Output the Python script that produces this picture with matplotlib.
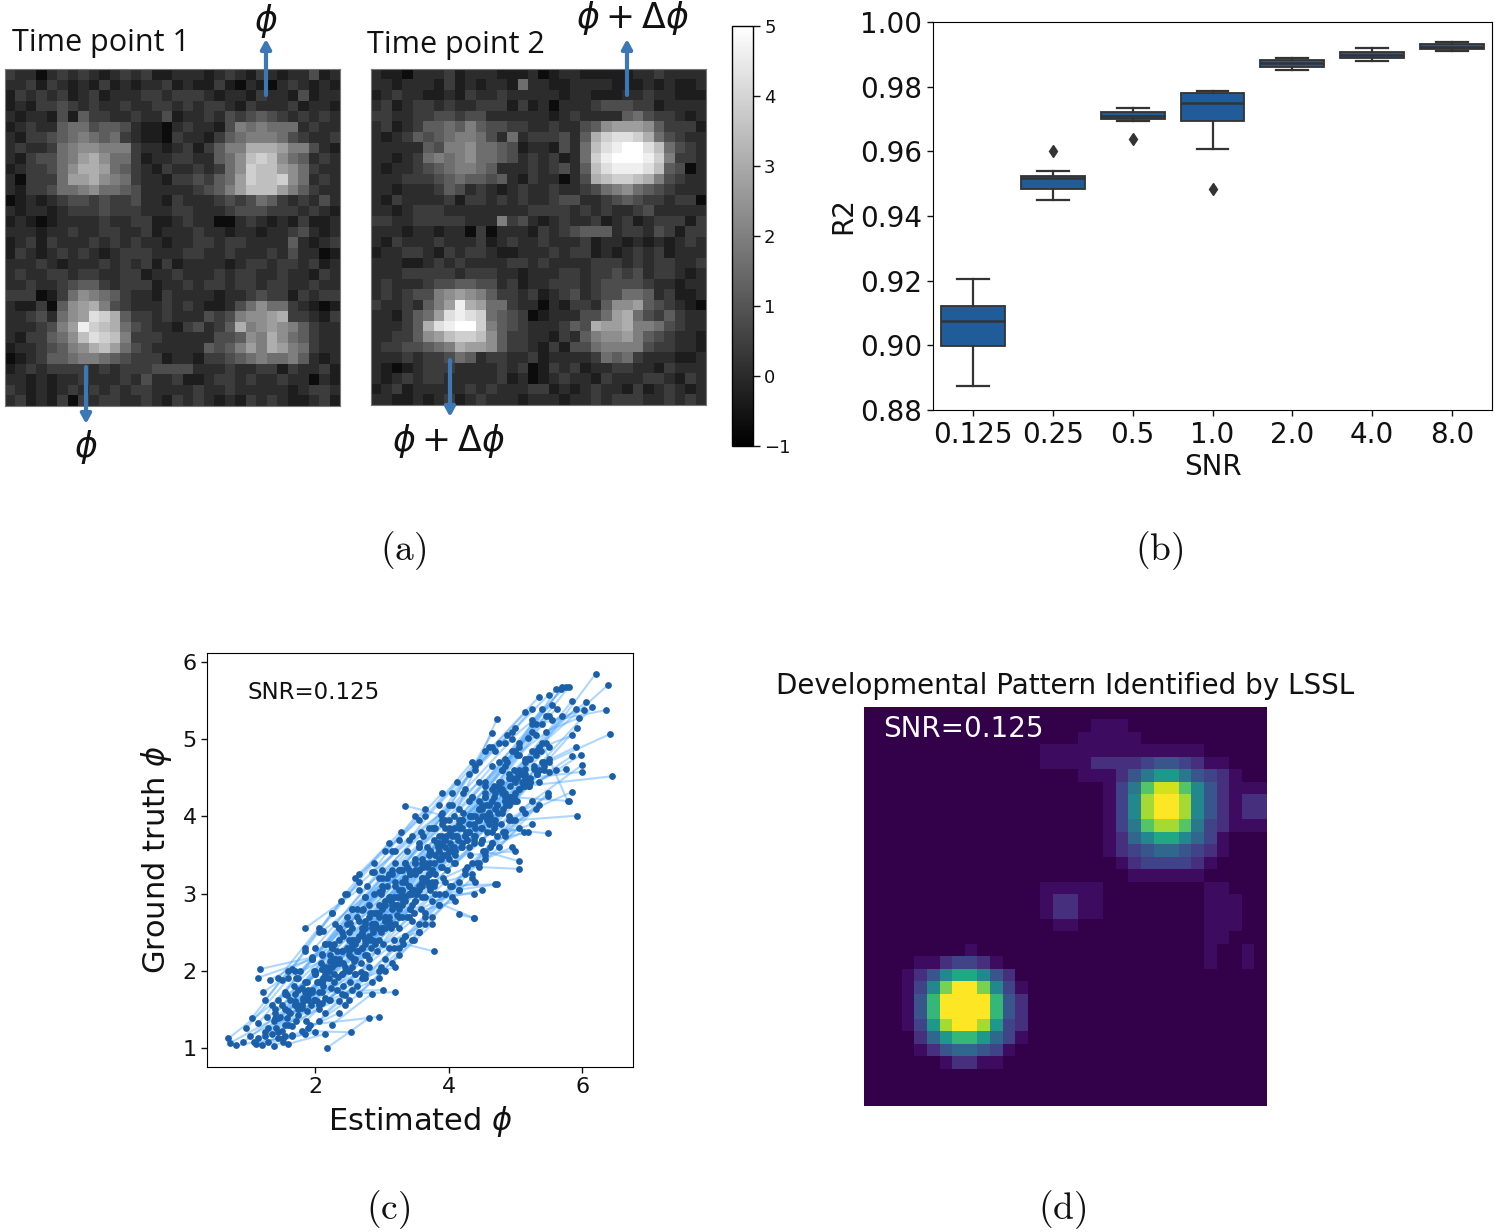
"""Four panel figure: phantom images, R2 boxplot, phi scatter, LSSL pattern."""
import numpy as np
import matplotlib
matplotlib.use("Agg")
import matplotlib.pyplot as plt
from matplotlib.cm import ScalarMappable
from matplotlib.colors import Normalize, ListedColormap

W, H = 1500, 1232

# grey levels (hex digit 0-f)
time1_rows = [
    "32202323212323112221232132122412", "22313212131212231211310210232121",
    "13232312312223323332122132214122", "12133432322322332323321322231221",
    "21221415332232241223243454323232", "12322566455421102322147676662322",
    "21334567656321103221356777643223", "23223678877732212313577aaa977421",
    "21344679a86631223322568bcb865232", "1233468aa96532132232368cbb986322",
    "20333699a87632213343569cbbc86232", "21334667866542222234579bbb975322",
    "01212344343342213222343465323242", "21221233343332223322234443332321",
    "12101222232233112322002321213112", "22212232233223122232212212234212",
    "12313222323232212233233222252123", "13212323212333222332232223242201",
    "22232122232323131222212332332312", "23223323322331223222323322322132",
    "22322345532333122323323323322322", "33301368765322132222122343313233",
    "21130589a74322232321124686632101", "22342689dca533232224347889a33213",
    "2223479ecba64322134235a789875322", "2133568bdcb73332222244587a865322",
    "12234578ab964322222545797a976322", "01235567765433312213345676675212",
    "12323333232333444422232233132231", "22121223222324223112332322322021",
    "32121232323233222232232222212332", "23121303233223213232121323211231",
]
time2_rows = [
    "21102223122211120122111112232222", "22122213121221622112222111212112",
    "12322112132232222212211122322111", "23123323223331312022234443312222",
    "33223344344222222123222256433212", "23123556575443322322458999853331",
    "212354567764262333425acddca64322", "222225477866541221426bdeffdb6432",
    "221236767866542323126cefffec7332", "212234567765222323425bdeeedb5402",
    "222333456554521322024abccba74322", "22122235423212322322346786543222",
    "21322223133232322344223454332330", "22123332222222233332323223422222",
    "33223333322273421232231231233313", "22212212203022213234555233243133",
    "21322232223123223222312212121232", "12233213233211222323312123231222",
    "22211232322223323222233323233223", "22233333233322122233233434233212",
    "23222344554423122333234444322122", "23234478987533231234234466523112",
    "32232579ea9663220213325889543210", "2213569dedc6543012224469a6435322",
    "22235adeffc7543222354a99a7764322", "2233589bccb853322132578897543221",
    "23344567a99853321314467777433221", "22232334652332231222236563222112",
    "21012333222232301323122332213222", "21232332222231201232213222332132",
    "12312222232322233121232213123212", "22112123123222122212232333223232",
]
# levels (hex digit 0-f)
pattern_rows = [
    "00000000000000000000000000000000", "00000000000000000011100000000000",
    "00000000000000000111110000000000", "00000000000000111111111111100000",
    "00000000000000111122223443211000", "00000000000000000111246886432100",
    "00000000000000000001 36beeb742111".replace(" ", ""), "00000000000000000001 37dffd742122".replace(" ", ""),
    "00000000000000000001 37dffd742122".replace(" ", ""), "00000000000000000001 36bddb632111".replace(" ", ""),
    "00000000000000000001 257997531000".replace(" ", ""), "00000000000000000001 234554321000".replace(" ", ""),
    "00000000000000000000123333210000", "00000000000000000000011111100000",
    "00000000000000111110000000011000", "00000000000000122110000000011100",
    "00000000000000122110000000011100", "00000000000000011000000000011100",
    "00000000000000000000000000011000", "00000000100000000000000000010010",
    "00001123321000000000000000010010", "00012479974200000000000000000000",
    "00013 7cffc7310000000000000000000".replace(" ", ""), "00014affffa42000000000000000000",
    "00014affffa42000000000000000000", "00013 8dffd8320000000000000000000".replace(" ", ""),
    "00002 58aa8531000000000000000000".replace(" ", ""), "00001 24554310000000000000000000".replace(" ", ""),
    "00000012211000000000000000000000", "00000000000000000000000000000000",
    "00000000000000000000000000000000", "00000000000000000000000000000000",
]

# boxplot statistics per SNR level
snr_labels = ["0.125", "0.25", "0.5", "1.0", "2.0", "4.0", "8.0"]
r2_whislo = [0.8873, 0.9448, 0.9694, 0.9608, 0.9851, 0.9880, 0.9910]
r2_q1 = [0.8999, 0.9482, 0.9699, 0.9695, 0.9862, 0.9890, 0.9917]
r2_med = [0.9074, 0.9516, 0.9710, 0.9749, 0.9873, 0.9899, 0.9923]
r2_q3 = [0.9122, 0.9524, 0.9722, 0.9780, 0.9881, 0.9907, 0.9931]
r2_whishi = [0.9205, 0.9540, 0.9735, 0.9788, 0.9888, 0.9919, 0.9938]
r2_fliers = [[], [0.9600], [0.9639], [0.9483], [], [], []]

# estimated / true phi, each early point joined to its late point
est_early = [
    0.70, 0.72, 0.82, 0.92, 0.97, 1.02, 1.08, 1.12, 1.15, 1.20,
    1.15, 1.17, 1.22, 1.25, 1.28, 1.30, 1.32, 1.35, 1.38, 1.40,
    1.42, 1.45, 1.48, 1.50, 1.52, 1.55, 1.58, 1.60, 1.62, 1.65,
    1.68, 1.72, 1.75, 1.78, 1.80, 1.82, 1.85, 1.88, 1.90, 1.92,
    1.95, 1.98, 2.00, 2.02, 2.05, 2.08, 2.10, 2.12, 2.15, 2.18,
    2.20, 2.22, 2.25, 2.28, 2.30, 2.32, 2.35, 2.38, 2.40, 2.42,
    2.45, 2.48, 2.50, 2.52, 2.55, 2.58, 2.60, 2.62, 2.65, 2.68,
    2.70, 2.72, 2.75, 2.78, 2.80, 2.82, 2.85, 2.88, 2.90, 2.92,
    2.95, 2.98, 3.00, 3.02, 3.05, 3.08, 3.10, 3.12, 3.15, 3.18,
    3.20, 3.22, 3.25, 3.28, 3.30, 3.32, 3.35, 3.38, 3.40, 3.42,
    3.45, 3.48, 3.50, 3.52, 3.55, 3.58, 3.60, 3.62, 3.65, 3.68,
    3.70, 3.72, 3.75, 3.78, 3.80, 3.82, 3.85, 3.88, 3.90, 3.92,
    3.95, 3.98, 4.00, 4.02, 4.05, 4.08, 4.10, 4.12, 4.15, 4.18,
    4.20, 4.22, 4.25, 4.28, 4.30, 4.32, 4.35, 4.38, 4.40, 4.42,
    4.45, 4.48, 4.50, 4.52, 4.55, 4.58, 4.60, 4.62, 4.65, 4.68,
    4.70, 4.72, 4.75, 4.78, 4.80, 4.82, 4.85, 4.88, 4.90, 4.92,
    4.95, 4.98, 5.00, 5.02, 5.05, 5.08, 5.10, 5.12, 5.15, 5.20,
    5.22, 5.25, 5.28, 5.30, 5.35, 5.40, 5.42, 5.45, 5.50, 5.55,
    1.55, 1.62, 1.70, 1.75, 1.82, 1.88, 1.95, 2.00, 2.05, 2.10,
    2.15, 2.22, 2.28, 2.35, 2.40, 2.48, 2.52, 2.58, 2.62, 2.70,
    2.75, 2.80, 2.86, 2.92, 2.98, 3.03, 3.08, 3.14, 3.20, 3.26,
    3.30, 3.35, 3.42, 3.48, 3.55, 3.60, 3.66, 3.72, 3.78, 3.84,
    3.90, 3.96, 4.02, 4.08, 4.14, 4.20, 4.26, 4.32, 4.38, 4.44,
    4.50, 4.56, 4.62, 4.68, 4.74, 4.80, 4.86, 4.92, 4.98, 5.04,
    1.25, 1.38, 1.44, 1.58, 1.66, 1.74, 1.86, 1.94, 2.06, 2.14,
    2.24, 2.34, 2.44, 2.54, 2.64, 2.74, 2.84, 2.94, 3.04, 3.14,
    4.30, 4.40, 4.55, 4.70, 4.85, 4.95, 5.05, 5.15, 5.25, 5.35,
    1.90, 2.05, 2.15, 2.25, 2.35, 2.45, 2.55, 2.65, 2.75, 2.85,
    2.95, 3.05, 3.15, 3.25, 3.35, 3.45, 3.55, 3.65, 3.75, 3.85,
    3.95, 4.05, 4.15, 4.25, 4.35, 4.45, 4.55, 4.65, 4.75, 4.85,
    1.05, 1.15, 1.25, 1.35, 1.45, 1.55, 1.65, 1.75, 1.85, 1.95,
    2.05, 2.15, 2.25, 2.35, 2.45, 2.55, 2.65, 2.75, 2.85, 2.95,
    3.05, 3.15, 3.25, 3.35, 3.45, 3.55, 3.65, 3.75, 3.85, 3.95,
    4.05, 4.15, 4.25, 4.35, 4.45, 4.55, 4.65, 4.75, 4.85, 4.95,
    1.40, 1.50, 1.60, 1.70, 1.80, 1.90, 2.00, 2.10, 2.20, 2.30,
    2.40, 2.50, 2.60, 2.70, 2.80, 2.90, 3.00, 3.10, 3.20, 3.30,
    3.40, 3.50, 3.60, 3.70, 3.80, 3.90, 4.00, 4.10, 4.20, 4.30,
    4.40, 4.50, 4.60, 4.70, 4.80, 4.90, 5.00, 1.30, 1.45, 1.60,
    2.10, 2.20, 2.30, 2.40, 2.50, 2.60, 2.70, 2.80, 2.90, 3.00,
    3.10, 3.20, 3.30, 3.40, 3.50, 3.60, 3.70, 3.80, 3.90, 4.00,
    4.10, 4.20, 4.30, 4.40, 4.50, 4.60, 4.70, 4.80, 4.90, 5.00,
]
truth_early = [
    1.12, 1.06, 1.03, 1.07, 1.25, 1.15, 1.08, 1.05, 1.12, 1.03,
    1.91, 2.02, 1.72, 1.20, 1.40, 1.08, 1.88, 1.18, 1.02, 1.50,
    1.25, 1.62, 1.40, 1.88, 1.12, 1.30, 1.68, 1.05, 1.45, 1.15,
    1.80, 1.35, 1.55, 2.00, 1.22, 1.65, 2.55, 1.48, 1.75, 1.30,
    2.18, 1.62, 2.30, 1.85, 1.55, 2.10, 1.72, 2.52, 1.95, 1.00,
    2.35, 1.62, 2.05, 1.95, 2.60, 1.75, 2.15, 2.90, 1.70, 2.45,
    2.00, 2.70, 2.25, 1.85, 2.55, 2.12, 3.20, 2.40, 2.65, 1.98,
    2.30, 2.80, 2.55, 3.10, 2.15, 2.75, 2.40, 3.28, 2.60, 2.25,
    2.85, 2.50, 3.05, 2.35, 2.70, 3.20, 2.60, 2.95, 3.55, 2.40,
    3.10, 2.85, 2.55, 3.30, 2.95, 2.35, 4.14, 2.70, 3.00, 3.25,
    3.05, 2.75, 3.40, 3.00, 3.60, 2.80, 3.20, 3.75, 2.95, 3.35,
    3.10, 3.55, 2.90, 3.85, 3.25, 3.65, 3.00, 3.45, 3.95, 3.20,
    3.70, 3.30, 3.85, 3.10, 3.55, 4.00, 3.40, 3.75, 2.73, 3.95,
    3.60, 4.05, 3.75, 3.35, 3.90, 3.50, 4.25, 3.70, 3.85, 3.40,
    3.95, 3.65, 4.15, 3.55, 4.30, 3.80, 4.05, 3.60, 4.35, 3.85,
    4.10, 3.75, 4.45, 3.90, 4.60, 3.80, 4.20, 4.70, 3.95, 4.50,
    4.25, 4.60, 3.95, 4.80, 4.35, 4.55, 4.10, 4.45, 4.75, 4.40,
    4.50, 4.85, 4.62, 5.20, 4.45, 4.95, 4.70, 5.10, 4.58, 5.25,
    1.50, 1.62, 1.55, 1.75, 1.60, 1.85, 1.72, 2.00, 1.85, 2.22,
    2.05, 2.20, 2.35, 2.10, 2.50, 2.30, 2.62, 2.40, 2.70, 2.50,
    2.65, 2.85, 2.50, 2.75, 3.00, 2.85, 3.10, 2.90, 3.15, 2.95,
    3.15, 2.95, 3.25, 3.05, 3.30, 3.45, 3.20, 3.55, 3.40, 3.60,
    3.50, 3.75, 3.65, 3.85, 3.70, 3.95, 3.80, 4.00, 3.75, 3.95,
    3.85, 4.15, 3.95, 4.25, 4.05, 4.30, 4.15, 4.40, 4.25, 4.55,
    1.15, 1.35, 1.20, 1.38, 1.28, 1.42, 1.35, 1.55, 1.50, 1.65,
    1.78, 1.92, 2.05, 2.18, 2.25, 2.40, 2.30, 2.55, 2.65, 2.55,
    4.55, 4.60, 4.40, 4.85, 4.65, 5.10, 4.95, 4.70, 5.25, 4.60,
    1.25, 1.35, 1.45, 1.30, 1.60, 1.55, 1.75, 1.70, 1.90, 1.85,
    2.00, 2.15, 2.10, 2.30, 2.45, 2.40, 2.60, 2.75, 2.70, 2.85,
    3.00, 3.10, 3.05, 3.25, 3.40, 3.35, 3.50, 3.65, 3.60, 3.75,
    1.38, 1.32, 1.62, 1.55, 1.90, 1.72, 2.02, 1.90, 2.30, 2.15,
    2.50, 2.35, 2.75, 2.55, 3.00, 2.80, 3.25, 2.95, 3.28, 3.20,
    3.55, 3.30, 3.70, 3.40, 3.75, 3.65, 4.00, 3.85, 4.15, 3.95,
    4.30, 4.10, 4.35, 4.25, 4.70, 4.45, 4.90, 4.70, 4.95, 4.85,
    1.45, 1.55, 1.48, 1.70, 1.78, 1.68, 1.95, 2.02, 1.90, 2.15,
    2.25, 2.40, 2.35, 2.55, 2.70, 2.60, 2.80, 2.95, 2.85, 3.05,
    3.10, 3.25, 3.35, 3.25, 3.50, 3.65, 3.55, 3.75, 3.85, 3.80,
    4.00, 4.10, 4.05, 4.30, 4.35, 4.25, 4.45, 1.25, 1.38, 1.30,
    1.85, 2.00, 2.10, 1.95, 2.20, 2.15, 2.30, 2.45, 2.35, 2.55,
    2.70, 2.60, 2.85, 3.00, 2.90, 3.10, 3.25, 3.15, 3.35, 3.45,
    3.50, 3.65, 3.60, 3.75, 3.70, 3.90, 3.95, 4.05, 4.15, 4.20,
]
est_late = [
    1.55, 1.40, 1.45, 1.70, 1.60, 1.75, 1.50, 1.65, 1.90, 1.85,
    1.95, 2.10, 1.70, 1.80, 1.95, 1.55, 2.25, 2.00, 1.52, 2.10,
    2.05, 2.20, 2.15, 2.55, 2.00, 2.10, 2.30, 2.15, 2.40, 2.35,
    2.50, 2.45, 2.60, 2.70, 2.53, 2.55, 2.65, 2.70, 2.80, 2.95,
    2.95, 2.75, 3.00, 2.85, 2.80, 2.90, 3.02, 3.25, 3.05, 2.80,
    3.10, 2.95, 3.15, 3.05, 3.20, 3.10, 3.22, 3.40, 3.20, 3.30,
    3.25, 3.35, 3.30, 3.20, 3.40, 3.30, 3.55, 3.40, 3.50, 3.30,
    3.45, 3.50, 3.55, 3.70, 3.40, 3.60, 3.50, 3.90, 3.60, 3.45,
    3.70, 3.60, 3.85, 3.55, 3.70, 3.90, 3.75, 3.85, 4.05, 3.64,
    3.95, 3.75, 3.80, 4.00, 3.85, 3.78, 3.88, 3.95, 4.10, 4.15,
    4.05, 4.10, 4.20, 4.38, 4.30, 4.15, 4.30, 4.40, 4.38, 4.45,
    4.35, 4.45, 4.50, 4.60, 4.50, 4.55, 4.40, 4.70, 4.65, 4.55,
    4.75, 4.65, 4.80, 4.70, 4.85, 4.72, 4.90, 4.90, 4.38, 5.00,
    5.00, 5.05, 5.10, 5.05, 5.15, 5.00, 5.25, 5.20, 5.30, 4.95,
    5.15, 5.18, 5.30, 5.05, 5.40, 5.20, 5.35, 5.13, 5.50, 5.48,
    5.50, 5.25, 5.60, 5.48, 5.70, 5.30, 5.60, 5.80, 5.85, 5.85,
    5.80, 5.90, 5.92, 6.05, 5.75, 6.20, 6.00, 6.15, 6.38, 6.44,
    6.00, 5.85, 6.42, 6.36, 5.98, 5.78, 5.90, 5.95, 5.84, 6.02,
    2.00, 2.10, 2.18, 2.25, 2.30, 2.35, 2.40, 2.48, 2.55, 2.62,
    2.75, 2.85, 2.88, 2.95, 3.00, 3.05, 3.15, 3.18, 3.25, 3.30,
    3.35, 3.38, 3.45, 3.50, 3.55, 3.62, 3.68, 3.72, 3.78, 3.85,
    3.90, 3.95, 4.02, 4.08, 4.15, 4.20, 4.28, 4.32, 4.38, 4.45,
    4.50, 4.55, 4.60, 4.68, 4.72, 4.78, 4.85, 4.90, 4.95, 5.02,
    5.05, 5.10, 5.15, 5.18, 5.22, 5.28, 5.32, 5.38, 5.42, 5.45,
    1.80, 1.90, 2.02, 2.12, 2.20, 2.28, 2.42, 2.50, 2.60, 2.68,
    2.78, 2.90, 3.00, 3.10, 3.22, 3.32, 3.42, 3.50, 3.60, 3.72,
    4.88, 5.00, 5.18, 5.25, 5.40, 5.50, 5.68, 5.70, 5.75, 5.92,
    2.50, 2.62, 2.75, 2.85, 2.98, 3.05, 3.18, 3.25, 3.35, 3.48,
    3.55, 3.65, 3.75, 3.85, 3.95, 4.05, 4.15, 4.25, 4.35, 4.45,
    4.55, 4.65, 4.72, 4.85, 4.95, 5.05, 5.15, 5.25, 5.35, 5.48,
    1.60, 1.72, 1.85, 1.95, 2.05, 2.15, 2.25, 2.35, 2.48, 2.55,
    2.65, 2.75, 2.88, 3.00, 3.10, 3.20, 3.28, 3.38, 3.50, 3.58,
    3.65, 3.80, 3.90, 4.00, 4.12, 4.22, 4.35, 4.45, 4.55, 4.65,
    4.75, 4.85, 4.95, 5.05, 5.15, 5.25, 5.35, 5.45, 5.55, 5.62,
    1.85, 1.98, 2.12, 2.22, 2.32, 2.42, 2.55, 2.65, 2.75, 2.85,
    2.95, 3.05, 3.15, 3.25, 3.35, 3.45, 3.55, 3.65, 3.75, 3.85,
    3.95, 4.05, 4.15, 4.25, 4.35, 4.45, 4.55, 4.65, 4.75, 4.85,
    4.95, 5.05, 5.15, 5.22, 5.30, 5.40, 5.50, 1.70, 1.85, 2.00,
    2.62, 2.72, 2.85, 2.95, 3.05, 3.12, 3.25, 3.35, 3.42, 3.55,
    3.68, 3.78, 3.88, 3.98, 4.08, 4.18, 4.28, 4.38, 4.48, 4.58,
    4.62, 4.72, 4.82, 4.92, 5.02, 5.12, 5.22, 5.32, 5.42, 5.50,
]
truth_late = [
    1.70, 1.38, 1.12, 1.60, 1.90, 1.50, 1.22, 1.17, 1.62, 1.18,
    2.15, 2.20, 2.00, 1.52, 1.75, 1.15, 2.30, 1.62, 1.08, 1.85,
    1.72, 2.05, 1.90, 2.30, 1.20, 1.58, 2.15, 1.18, 1.95, 1.45,
    2.50, 1.68, 1.95, 2.78, 1.20, 2.05, 3.05, 1.90, 2.40, 1.40,
    3.02, 2.20, 3.30, 2.60, 2.05, 2.75, 1.75, 3.30, 2.70, 1.38,
    3.25, 1.90, 2.85, 2.55, 3.55, 2.30, 2.95, 3.70, 1.72, 3.30,
    2.70, 3.40, 3.00, 2.05, 3.30, 2.40, 3.95, 3.10, 3.40, 2.70,
    2.85, 3.45, 3.10, 3.85, 2.70, 3.40, 2.90, 4.05, 3.20, 2.65,
    3.50, 2.95, 3.75, 2.50, 3.25, 3.90, 3.15, 3.65, 4.15, 2.60,
    3.85, 3.30, 3.00, 4.15, 3.60, 2.25, 4.02, 3.15, 3.55, 3.95,
    3.60, 2.90, 3.95, 2.68, 4.20, 3.05, 3.80, 4.65, 3.00, 3.95,
    3.25, 4.20, 3.05, 4.90, 3.70, 4.25, 3.15, 3.90, 5.08, 3.45,
    4.40, 3.80, 4.60, 3.12, 4.20, 5.26, 4.00, 4.50, 2.68, 4.85,
    4.30, 4.80, 4.45, 3.32, 4.62, 3.55, 5.20, 4.40, 4.85, 3.60,
    4.55, 3.80, 5.05, 3.42, 5.40, 4.45, 4.90, 3.80, 5.30, 3.78,
    4.75, 3.90, 5.65, 4.26, 5.68, 4.10, 4.60, 5.68, 4.32, 5.50,
    4.20, 5.40, 4.01, 5.48, 4.62, 5.85, 4.67, 5.42, 5.70, 4.52,
    4.58, 5.05, 5.07, 5.38, 4.80, 4.20, 4.90, 5.28, 4.78, 5.38,
    1.95, 2.02, 2.00, 2.30, 2.08, 2.40, 2.25, 2.60, 2.35, 2.80,
    2.60, 2.75, 3.00, 2.70, 3.10, 2.85, 3.25, 2.95, 3.30, 3.05,
    3.20, 3.35, 3.00, 3.30, 3.60, 3.35, 3.60, 3.40, 3.70, 3.45,
    3.75, 3.50, 3.80, 3.60, 3.90, 3.95, 3.70, 4.00, 3.90, 4.10,
    4.00, 4.25, 4.15, 4.40, 4.15, 4.45, 4.30, 4.55, 4.20, 4.50,
    4.35, 4.55, 4.40, 4.75, 4.45, 4.65, 4.55, 4.85, 4.60, 4.95,
    1.55, 1.72, 1.60, 1.80, 1.62, 1.85, 1.80, 2.00, 1.95, 2.10,
    2.20, 2.38, 2.55, 2.65, 2.72, 2.90, 2.80, 3.00, 3.15, 3.05,
    5.05, 5.15, 5.02, 5.40, 5.20, 5.58, 5.65, 5.30, 5.68, 5.15,
    1.62, 1.80, 1.95, 1.70, 2.05, 2.00, 2.30, 2.20, 2.45, 2.40,
    2.50, 2.70, 2.60, 2.85, 3.00, 2.95, 3.15, 3.30, 3.20, 3.40,
    3.55, 3.65, 3.12, 3.80, 3.95, 3.85, 4.05, 4.20, 4.15, 4.30,
    2.00, 1.90, 2.25, 2.15, 2.55, 2.35, 2.75, 2.55, 3.00, 2.80,
    3.15, 2.95, 3.40, 3.20, 3.65, 3.40, 3.80, 3.55, 4.00, 3.80,
    4.10, 3.85, 4.30, 3.95, 4.45, 4.30, 4.70, 4.45, 4.85, 4.65,
    4.95, 4.75, 5.00, 4.90, 5.35, 5.10, 5.55, 5.30, 5.45, 5.40,
    1.85, 2.00, 1.90, 2.12, 2.25, 2.10, 2.40, 2.45, 2.35, 2.60,
    2.75, 2.90, 2.80, 3.05, 3.15, 3.05, 3.30, 3.40, 3.30, 3.55,
    3.60, 3.75, 3.85, 3.75, 4.00, 4.10, 4.00, 4.20, 4.35, 4.25,
    4.50, 4.60, 4.50, 4.75, 4.80, 4.70, 4.90, 1.55, 1.72, 1.62,
    2.25, 2.45, 2.55, 2.40, 2.65, 2.60, 2.80, 2.90, 2.80, 3.05,
    3.15, 3.10, 3.35, 3.50, 3.40, 3.60, 3.70, 3.65, 3.85, 3.95,
    4.00, 4.15, 4.10, 4.25, 4.20, 4.40, 4.45, 4.55, 4.65, 4.70,
]


def decode(rows, fill):
    # hex digit strings to a 32x32 array in 0..1
    grid = [[int(c, 16) / 15 for c in r.ljust(32, fill)[:32]] for r in rows]
    return np.array(grid)


def box(x0, y0, x1, y1):
    # pixel box (top-left origin) to figure fractions
    return [x0 / W, 1 - y1 / H, (x1 - x0) / W, (y1 - y0) / H]


plt.rcParams["mathtext.fontset"] = "dejavusans"
fig = plt.figure(figsize=(W / 100, H / 100), dpi=100)
ink = "#111111"

# (a) phantom images and colour bar
for rows, rect in [(time1_rows, (5, 69, 340, 406)), (time2_rows, (371, 69, 706, 405))]:
    ax = fig.add_axes(box(*rect))
    ax.imshow(-0.7 + 5.7 * decode(rows, "2"), cmap="gray", vmin=-1, vmax=5, aspect="auto",
              interpolation="nearest")
    ax.set_xticks([]); ax.set_yticks([])
    for s in ax.spines.values():
        s.set_color("#777777"); s.set_linewidth(0.8)

cax = fig.add_axes(box(732, 26, 753, 446))
cb = fig.colorbar(ScalarMappable(Normalize(-1, 5), "gray"), cax=cax, ticks=range(-1, 6))
cb.ax.tick_params(labelsize=13, length=5, width=1, colors=ink, pad=3)
cb.outline.set_linewidth(1.0)

# (b) R2 boxplot
ax = fig.add_axes(box(933, 22, 1492, 410))
stats = [dict(med=m, q1=a, q3=b, whislo=lo, whishi=hi, fliers=f)
         for m, a, b, lo, hi, f in zip(r2_med, r2_q1, r2_q3, r2_whislo, r2_whishi, r2_fliers)]
dark = "#333333"
ax.bxp(stats, positions=range(len(stats)), widths=0.8, patch_artist=True, capwidths=0.4,
       boxprops=dict(facecolor="#1f5c99", edgecolor=dark, linewidth=1.3),
       medianprops=dict(color=dark, linewidth=1.8),
       whiskerprops=dict(color=dark, linewidth=1.6),
       capprops=dict(color=dark, linewidth=1.6),
       flierprops=dict(marker="d", markerfacecolor=dark, markeredgecolor=dark, markersize=6))
ax.set_xlim(-0.5, 6.5)
ax.set_ylim(0.88, 1.0)
ax.set_xticks(range(len(snr_labels)), snr_labels)
ax.set_yticks([0.88, 0.90, 0.92, 0.94, 0.96, 0.98, 1.00])
ax.set_yticklabels(["0.88", "0.90", "0.92", "0.94", "0.96", "0.98", "1.00"])
ax.tick_params(labelsize=20, length=4, width=1, colors=ink, pad=4)
ax.set_xlabel("SNR", fontsize=20, color=ink, labelpad=3)
ax.set_ylabel("R2", fontsize=20, color=ink, labelpad=2)

# (c) estimated vs ground truth phi
ax = fig.add_axes(box(207, 653, 633, 1067))
for xa, ya, xb, yb in zip(est_early, truth_early, est_late, truth_late):
    ax.plot([xa, xb], [ya, yb], color="#4da6ff", alpha=0.45, lw=1.5, zorder=2)
ax.scatter(est_early + est_late, truth_early + truth_late, s=24, color="#1a5fa8", zorder=3,
           linewidths=0)
ax.set_xlim(0.38, 6.76)
ax.set_ylim(0.75, 6.12)
ax.set_xticks([2, 4, 6])
ax.set_yticks([1, 2, 3, 4, 5, 6])
ax.tick_params(labelsize=16, length=4, width=1, colors=ink)
ax.set_xlabel(r"Estimated $\phi$", fontsize=22, color=ink, labelpad=5)
ax.set_ylabel(r"Ground truth $\phi$", fontsize=22, color=ink, labelpad=6)
ax.text(0.095, 0.905, "SNR=0.125", transform=ax.transAxes, fontsize=16.5, color=ink, va="center")

# (d) developmental pattern, background darker than plain viridis
pattern_colors = plt.get_cmap("viridis")(np.linspace(0, 1, 16))
pattern_colors[0] = matplotlib.colors.to_rgba("#33004a")
pattern_colors[1] = matplotlib.colors.to_rgba("#3d0c60")
ax = fig.add_axes(box(864, 707, 1266, 1106))
ax.imshow(decode(pattern_rows, "0"), cmap=ListedColormap(pattern_colors), vmin=0, vmax=1,
          aspect="auto", interpolation="nearest")
ax.set_xticks([]); ax.set_yticks([])
for s in ax.spines.values():
    s.set_visible(False)
ax.text(0.047, 0.945, "SNR=0.125", transform=ax.transAxes, fontsize=20, color="white", va="center")

# annotations in pixel coordinates
ov = fig.add_axes([0, 0, 1, 1], facecolor="none")
ov.set_xlim(0, W); ov.set_ylim(H, 0); ov.axis("off")
ov.text(12, 43, "Time point 1", fontsize=22, family="Open Sans", color=ink, va="center")
ov.text(367, 45, "Time point 2", fontsize=22, family="Open Sans", color=ink, va="center")
ov.text(266, 21, r"$\phi$", fontsize=25, color=ink, ha="center", va="center")
ov.text(86, 447, r"$\phi$", fontsize=25, color=ink, ha="center", va="center")
ov.text(633, 18, r"$\phi+\Delta\phi$", fontsize=25, color=ink, ha="center", va="center")
ov.text(449, 441, r"$\phi+\Delta\phi$", fontsize=25, color=ink, ha="center", va="center")
for xa, ya, yb in [(266, 95, 39), (86, 367, 424), (627, 95, 39), (450, 360, 417)]:
    ov.annotate("", xy=(xa, yb), xytext=(xa, ya),
                arrowprops=dict(arrowstyle="-|>,head_width=0.3,head_length=0.55", color="#3b78b5",
                                lw=3, shrinkA=0, shrinkB=0))
ov.text(776, 686, "Developmental Pattern Identified by LSSL", fontsize=20, color=ink, va="center")
for label, x, y in [("a", 403, 551), ("b", 1159, 551), ("c", 388, 1210), ("d", 1062, 1210)]:
    ov.text(x, y, r"$\mathrm{(%s)}$" % label, fontsize=27, math_fontfamily="cm", color=ink,
            ha="center", va="center")

fig.savefig("out.png", dpi=100)
